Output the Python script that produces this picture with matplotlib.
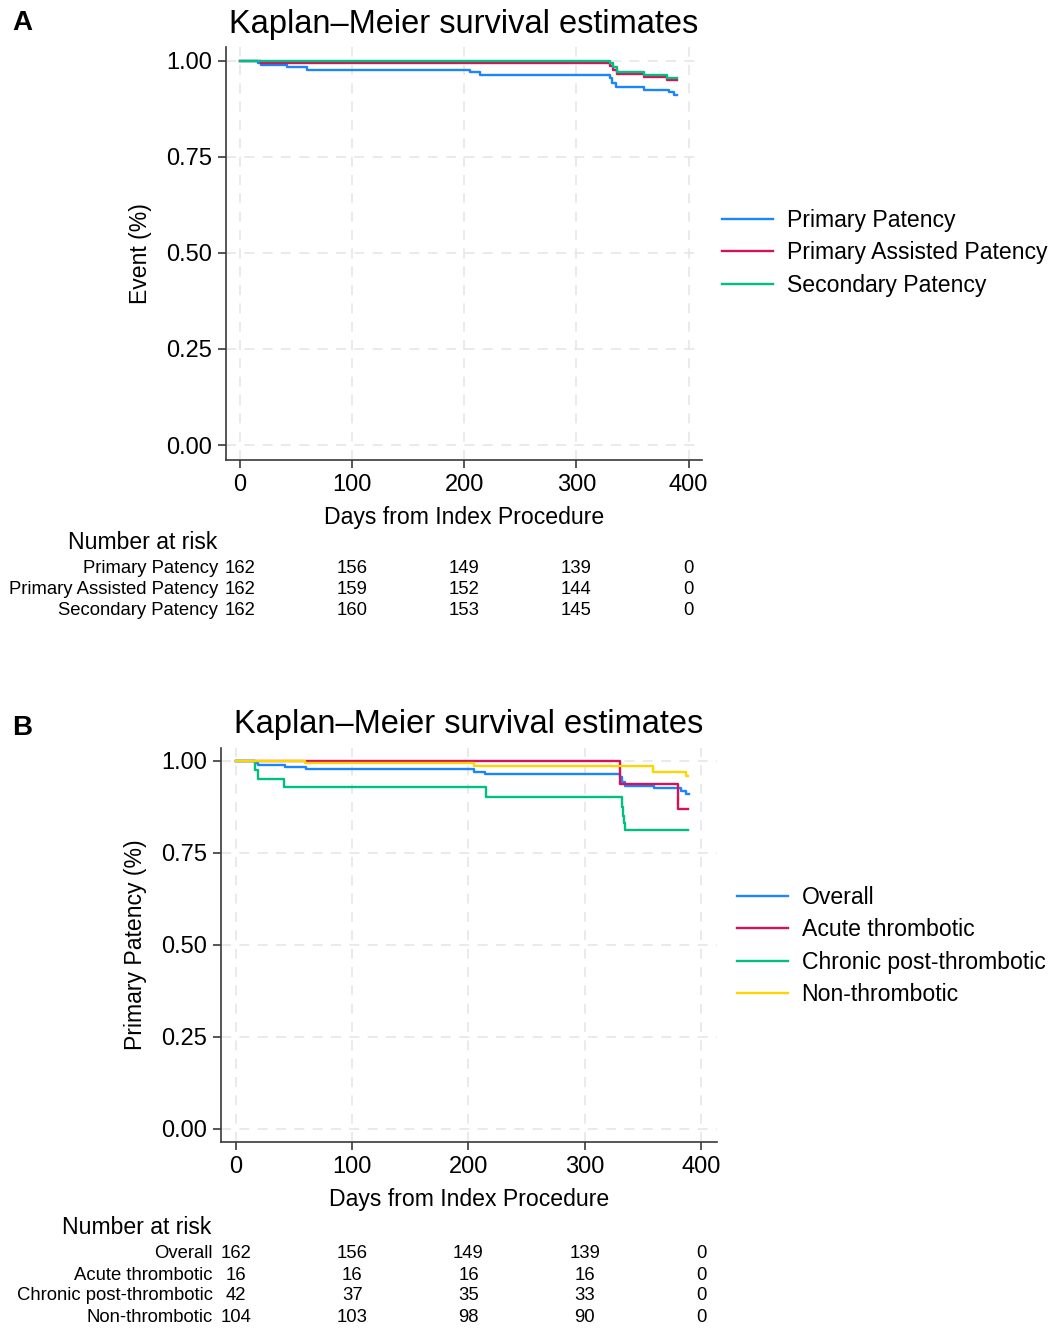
import matplotlib
matplotlib.use("Agg")
import matplotlib.pyplot as plt
import matplotlib.transforms as mtransforms

plt.rcParams['font.family'] = ['Liberation Sans', 'DejaVu Sans']

W, H = 1054, 1329

# panel A: patency curves (days, survival)
pp_t = [0, 16, 19, 42, 60, 205, 214, 330, 332, 335, 360, 383, 387, 390]
pp_s = [1.0, 0.994, 0.988, 0.983, 0.977, 0.971, 0.963, 0.955, 0.943, 0.932, 0.925, 0.918, 0.910, 0.910]
pap_t = [0, 19, 330, 333, 336, 360, 381, 390]
pap_s = [1.0, 0.994, 0.986, 0.975, 0.965, 0.958, 0.950, 0.950]
sp_t = [0, 330, 333, 336, 360, 381, 390]
sp_s = [1.0, 0.994, 0.983, 0.972, 0.964, 0.955, 0.955]

# panel B: primary patency by group
acute_t = [0, 330, 380, 389]
acute_s = [1.0, 0.9375, 0.870, 0.870]
chronic_t = [0, 16, 19, 41, 215, 332, 333, 334, 335, 389]
chronic_s = [1.0, 0.976, 0.952, 0.929, 0.901, 0.875, 0.850, 0.830, 0.811, 0.811]
nonthr_t = [0, 59, 205, 359, 387, 389]
nonthr_s = [1.0, 0.994, 0.985, 0.971, 0.958, 0.958]

risk_days = [0, 100, 200, 300, 400]
risk_a_labels = ["Primary Patency", "Primary Assisted Patency", "Secondary Patency"]
risk_a = [[162, 156, 149, 139, 0],
          [162, 159, 152, 144, 0],
          [162, 160, 153, 145, 0]]
risk_b_labels = ["Overall", "Acute thrombotic", "Chronic post-thrombotic", "Non-thrombotic"]
risk_b = [[162, 156, 149, 139, 0],
          [16, 16, 16, 16, 0],
          [42, 37, 35, 33, 0],
          [104, 103, 98, 90, 0]]

BLUE, RED, GREEN, YELLOW = "#1a85ff", "#d41159", "#00bf7f", "#ffd400"
LW = 1.7


def px_box(l, t, r, b):
    return [l / W, 1 - b / H, (r - l) / W, (b - t) / H]


def fy(y):
    return 1 - y / H


def style_axes(ax, xlim, ylim):
    ax.set_xlim(*xlim)
    ax.set_ylim(*ylim)
    ax.set_xticks([0, 100, 200, 300, 400])
    ax.set_yticks([0, 0.25, 0.5, 0.75, 1.0])
    ax.set_yticklabels(["0.00", "0.25", "0.50", "0.75", "1.00"])
    for s in ["top", "right"]:
        ax.spines[s].set_visible(False)
    for s in ["left", "bottom"]:
        ax.spines[s].set_color("#3a3a3a")
        ax.spines[s].set_linewidth(1.2)
    ax.tick_params(axis="both", labelsize=17, length=6, width=1.2, color="#3a3a3a", pad=4)
    ax.grid(True, color="#e6e6e6", linestyle=(0, (6, 5)), linewidth=1.2)
    ax.set_axisbelow(True)


def risk_table(fig, ax, title_y, title_x, rows_y, label_x, labels, counts):
    trans = mtransforms.blended_transform_factory(ax.transData, fig.transFigure)
    fig.text(title_x / W, fy(title_y), "Number at risk", ha="center", va="center", fontsize=16.6)
    for lab, row, y in zip(labels, counts, rows_y):
        fig.text(label_x / W, fy(y), lab, ha="right", va="center", fontsize=13.3)
        for d, n in zip(risk_days, row):
            ax.text(d, fy(y), str(n), transform=trans, ha="center", va="center", fontsize=13.3, clip_on=False)


fig = plt.figure(figsize=(W / 100, H / 100), dpi=100)

# ---- panel A
axA = fig.add_axes(px_box(226, 47, 702, 460))
style_axes(axA, (-12.5, 412), (-0.039, 1.036))
axA.step(pp_t, pp_s, where="post", color=BLUE, lw=LW, label="Primary Patency")
axA.step(pap_t, pap_s, where="post", color=RED, lw=LW, label="Primary Assisted Patency")
axA.step(sp_t, sp_s, where="post", color=GREEN, lw=LW, label="Secondary Patency")
axA.set_xlabel("Days from Index Procedure", fontsize=16.6, labelpad=7)
axA.set_ylabel("Event (%)", fontsize=16.6, labelpad=10)
fig.text(464 / W, fy(25), "Kaplan\u2013Meier survival estimates", ha="center", va="center", fontsize=23.5)
fig.text(12 / W, fy(23), "A", ha="left", va="center", fontsize=20, fontweight="bold")
fig.legend(*axA.get_legend_handles_labels(), loc="center left",
           bbox_to_anchor=(722 / W, fy(253)), frameon=False, fontsize=16.6,
           handlelength=2.2, handletextpad=0.6, labelspacing=0.4,
           borderpad=0, borderaxespad=0)
risk_table(fig, axA, 543, 143, [568, 589, 610], 218, risk_a_labels, risk_a)

# ---- panel B
axB = fig.add_axes(px_box(221, 748, 717, 1142))
style_axes(axB, (-12.9, 413.8), (-0.036, 1.035))
axB.step(pp_t, pp_s, where="post", color=BLUE, lw=LW, label="Overall")
axB.step(acute_t, acute_s, where="post", color=RED, lw=LW, label="Acute thrombotic")
axB.step(chronic_t, chronic_s, where="post", color=GREEN, lw=LW, label="Chronic post-thrombotic")
axB.step(nonthr_t, nonthr_s, where="post", color=YELLOW, lw=LW, label="Non-thrombotic")
axB.set_xlabel("Days from Index Procedure", fontsize=16.6, labelpad=7)
axB.set_ylabel("Primary Patency (%)", fontsize=16.6, labelpad=10)
fig.text(469 / W, fy(725), "Kaplan\u2013Meier survival estimates", ha="center", va="center", fontsize=23.5)
fig.text(12 / W, fy(728), "B", ha="left", va="center", fontsize=20, fontweight="bold")
fig.legend(*axB.get_legend_handles_labels(), loc="center left",
           bbox_to_anchor=(737 / W, fy(946)), frameon=False, fontsize=16.6,
           handlelength=2.2, handletextpad=0.6, labelspacing=0.4,
           borderpad=0, borderaxespad=0)
risk_table(fig, axB, 1228, 137, [1253, 1275, 1296, 1318], 213, risk_b_labels, risk_b)

fig.savefig("out.png", dpi=100)
